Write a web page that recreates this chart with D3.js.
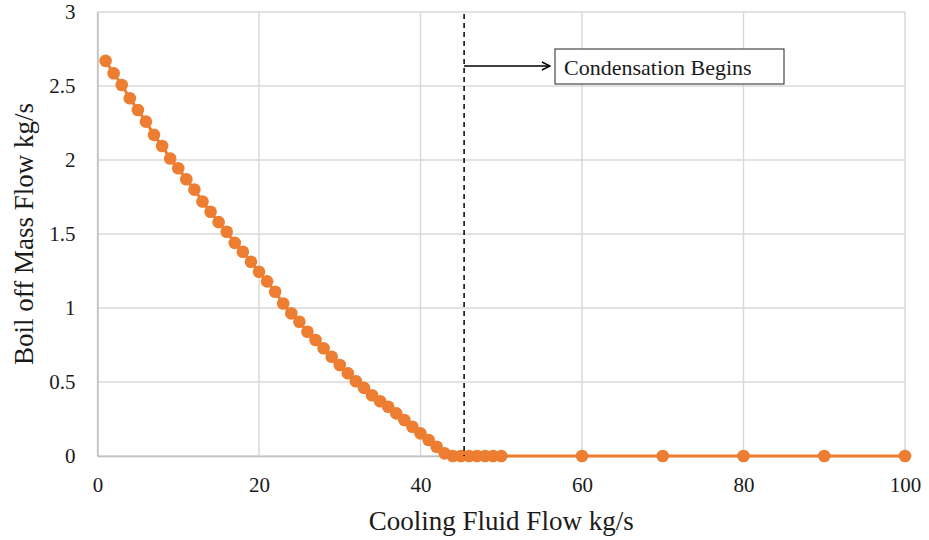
<!DOCTYPE html>
<html><head><meta charset="utf-8">
<script src="https://cdn.jsdelivr.net/npm/d3@7"></script>
<style>body{margin:0;background:#fff}svg{display:block}</style>
</head><body>
<script>
const flowX = [1,2,3,4,5,6,7,8,9,10,11,12,13,14,15,16,17,18,19,20,21,22,23,24,25,26,27,28,29,30,31,32,33,34,35,36,37,38,39,40,41,42,43,44,45,46,47,48,49,50,60,70,80,90,100];
const boilOff = [2.67,2.586,2.507,2.417,2.338,2.259,2.17,2.095,2.01,1.944,1.87,1.80,1.72,1.65,1.58,1.515,1.44,1.38,1.313,1.245,1.18,1.11,1.03,0.964,0.907,0.84,0.784,0.728,0.671,0.615,0.559,0.505,0.46,0.41,0.37,0.333,0.288,0.243,0.198,0.153,0.108,0.063,0.018,0,0,0,0,0,0,0,0,0,0,0,0];
const xTicks = [0,20,40,60,80,100];
const yTicks = [0,0.5,1,1.5,2,2.5,3];
const condensationX = 45.4;
const annotationText = "Condensation Begins";
const xTitle = "Cooling Fluid Flow kg/s";
const yTitle = "Boil off Mass Flow kg/s";

const W = 929, H = 540;
const svg = d3.select("body").append("svg").attr("width", W).attr("height", H);
const x = d3.scaleLinear().domain([0,100]).range([97.5,905]);
const y = d3.scaleLinear().domain([0,3]).range([456,12]);
const serif = "'Liberation Serif','Times New Roman',serif";
const grid = "#d9d9d9";
const ink = "#1a1a1a";

// gridlines
svg.append("g").selectAll("line").data(yTicks).join("line")
  .attr("x1", x(0)).attr("x2", x(100)).attr("y1", d=>y(d)).attr("y2", d=>y(d))
  .attr("stroke", grid).attr("stroke-width", 1.5);
svg.append("g").selectAll("line").data(xTicks).join("line")
  .attr("x1", d=>x(d)).attr("x2", d=>x(d)).attr("y1", y(0)).attr("y2", y(3))
  .attr("stroke", grid).attr("stroke-width", 1.5);

// axes
const xAxis = svg.append("g").attr("transform", `translate(0,${y(0)})`)
  .call(d3.axisBottom(x).tickValues(xTicks).tickSize(0).tickPadding(22).tickFormat(d3.format("d")));
xAxis.select(".domain").attr("stroke", "#bfbfbf").attr("stroke-width", 1.5);
xAxis.selectAll("text").attr("font-family", serif).attr("font-size", 21).attr("fill", ink)
  .attr("dy", 0).attr("y", 36);

const yAxis = svg.append("g").attr("transform", `translate(${x(0)},0)`)
  .call(d3.axisLeft(y).tickValues(yTicks).tickSize(0).tickPadding(22).tickFormat(d=>String(d)));
yAxis.select(".domain").attr("stroke", "#bfbfbf").attr("stroke-width", 1.5);
yAxis.selectAll("text").attr("font-family", serif).attr("font-size", 21).attr("fill", ink);

// series
const pts = flowX.map((d,i)=>({x:d, y:boilOff[i]}));
svg.append("path").datum(pts)
  .attr("d", d3.line().x(d=>x(d.x)).y(d=>y(d.y)))
  .attr("fill","none").attr("stroke","#ED7D31").attr("stroke-width",3);
svg.append("g").selectAll("circle").data(pts).join("circle")
  .attr("cx", d=>x(d.x)).attr("cy", d=>y(d.y)).attr("r", 6.3)
  .attr("fill","#ED7D31");

// annotation
const cx = x(condensationX);
svg.append("line").attr("x1",cx).attr("x2",cx).attr("y1",y(3)+2).attr("y2",y(0))
  .attr("stroke","#000").attr("stroke-width",1.5).attr("stroke-dasharray","5,4");
svg.append("defs").append("marker").attr("id","arr").attr("viewBox","0 0 10 10")
  .attr("refX",9).attr("refY",5).attr("markerWidth",10).attr("markerHeight",10).attr("markerUnits","userSpaceOnUse")
  .attr("orient","auto").append("path").attr("d","M1,1 L9,5 L1,9").attr("fill","none").attr("stroke","#000").attr("stroke-width",1.4);
svg.append("line").attr("x1",cx).attr("x2",550).attr("y1",66).attr("y2",66)
  .attr("stroke","#000").attr("stroke-width",1.4).attr("marker-end","url(#arr)");
svg.append("rect").attr("x",555).attr("y",49).attr("width",229).attr("height",35)
  .attr("fill","#fff").attr("stroke","#222").attr("stroke-width",1);
svg.append("text").attr("x",564).attr("y",75).text(annotationText)
  .attr("font-family",serif).attr("font-size",22).attr("fill",ink);

// titles
svg.append("text").attr("x",(x(0)+x(100))/2).attr("y",530).attr("text-anchor","middle")
  .text(xTitle).attr("font-family",serif).attr("font-size",27).attr("fill",ink);
svg.append("text").attr("transform",`translate(33,${(y(0)+y(3))/2}) rotate(-90)`).attr("text-anchor","middle")
  .text(yTitle).attr("font-family",serif).attr("font-size",27).attr("fill",ink);
</script>
</body></html>
